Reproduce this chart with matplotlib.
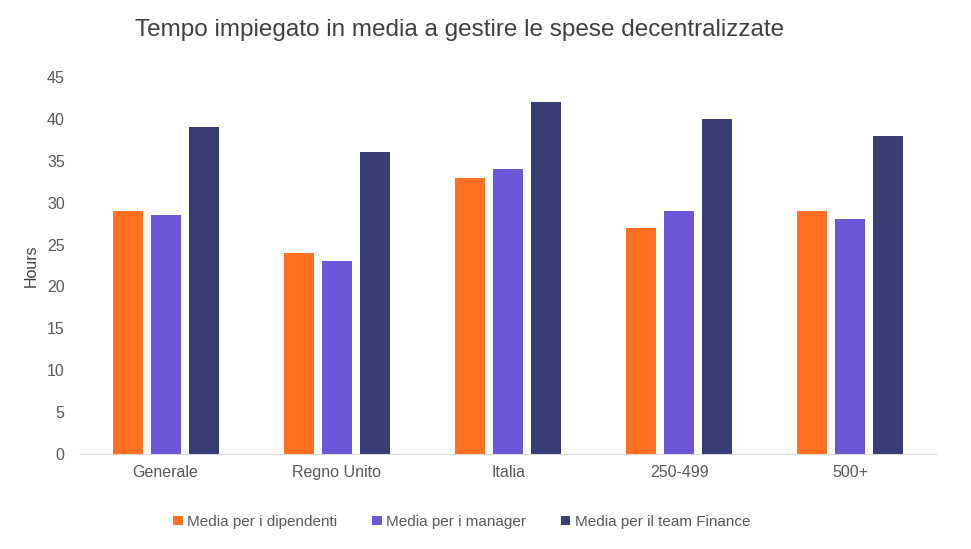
import matplotlib
matplotlib.use("Agg")
import matplotlib.pyplot as plt
import numpy as np

plt.rcParams['font.family'] = ['Liberation Sans', 'DejaVu Sans']

categories = ["Generale", "Regno Unito", "Italia", "250-499", "500+"]
series_names = ["Media per i dipendenti", "Media per i manager", "Media per il team Finance"]
dipendenti = [29, 24, 33, 27, 29]
manager = [28.5, 23, 34, 29, 28]
finance = [39, 36, 42, 40, 38]
colors = ["#FF7022", "#6C56D6", "#383D73"]

fig = plt.figure(figsize=(9.71, 5.49), dpi=100)
ax = fig.add_axes([80/971, 95/549, 856/971, 377/549])

x = np.arange(len(categories))
w = 0.175
step = 0.222
for i, (vals, name, c) in enumerate(zip([dipendenti, manager, finance], series_names, colors)):
    ax.bar(x + (i - 1) * step, vals, width=w, color=c, label=name)

ax.set_xlim(-0.5, len(categories) - 0.5)
ax.set_ylim(0, 45)
ax.set_yticks(range(0, 46, 5))
ax.set_xticks(x)
ax.set_xticklabels(categories)
for s in ["top", "right", "left"]:
    ax.spines[s].set_visible(False)
ax.spines["bottom"].set_color("#D9D9D9")
ax.tick_params(axis="both", length=0, labelsize=11.5, colors="#595959")
ax.tick_params(axis="y", pad=11)
ax.tick_params(axis="x", pad=8)
ax.set_ylabel("Hours", fontsize=11.5, color="#404040", labelpad=6)

fig.text(460/971, 1 - 30/549, "Tempo impiegato in media a gestire le spese decentralizzate",
         ha="center", va="center", fontsize=17.5, color="#404040")

leg = fig.legend(loc="center", bbox_to_anchor=(462/971, 1 - 522/549), ncol=3, frameon=False,
                 fontsize=11, handlelength=0.6, handleheight=0.6, handletextpad=0.3,
                 columnspacing=2.3, labelcolor="#595959")

fig.savefig("out.png", dpi=100)
